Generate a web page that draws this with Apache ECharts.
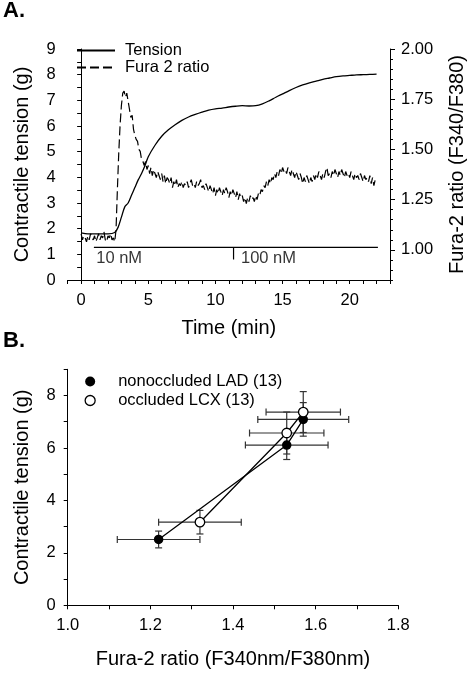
<!DOCTYPE html>
<html><head><meta charset="utf-8">
<script src="https://cdn.jsdelivr.net/npm/echarts@6/dist/echarts.min.js"></script>
<style>html,body{margin:0;padding:0;background:#fff}#c{width:475px;height:675px}</style>
</head><body><div id="c"></div>
<script>
const FONT = "'Liberation Sans', Arial, sans-serif";

// ---------- Panel A data ----------
const tensionTime = [0,0.5,1,1.5,2,2.5,2.75,3,3.25,3.5,3.75,4,4.25,4.5,4.75,5,5.5,6,6.5,7,7.5,8,8.5,9,9.5,10,10.5,11,11.5,12,12.5,13,13.5,14,14.5,15,15.5,16,16.5,17,17.5,18,18.5,19,19.5,20,20.5,21,21.5,22];
const tensionValues = [1.84,1.8,1.8,1.8,1.8,1.85,2.05,2.45,2.85,3.0,3.3,3.6,3.9,4.15,4.45,4.8,5.25,5.6,5.85,6.05,6.22,6.35,6.45,6.54,6.62,6.67,6.7,6.74,6.77,6.79,6.78,6.79,6.86,6.98,7.12,7.25,7.38,7.5,7.6,7.68,7.75,7.82,7.87,7.92,7.95,7.97,7.99,8.0,8.01,8.02];

// Fura-2 ratio sampled every 0.1 min from t = 0 to 22
const furaStartTime = 0;
const furaStep = 0.1;
const furaValues = [
  1.08,1.05,1.07,1.06,1.04,1.07,1.05,1.08,1.06,1.05,
  1.07,1.04,1.06,1.08,1.05,1.07,1.06,1.09,1.05,1.04,
  1.07,1.06,1.08,1.05,1.06,1.04,1.10,1.30,1.48,1.62,
  1.72,1.78,1.79,1.76,1.78,1.74,1.70,1.66,1.67,1.60,
  1.57,1.55,1.54,1.50,1.49,1.45,1.44,1.42,1.44,1.40,
  1.42,1.38,1.41,1.37,1.40,1.38,1.36,1.39,1.37,1.35,
  1.38,1.34,1.37,1.33,1.36,1.35,1.33,1.36,1.31,1.34,
  1.32,1.35,1.31,1.33,1.32,1.34,1.31,1.33,1.32,1.34,
  1.31,1.33,1.35,1.32,1.33,1.31,1.34,1.32,1.33,1.35,
  1.31,1.32,1.30,1.33,1.31,1.29,1.32,1.30,1.28,1.31,
  1.27,1.30,1.28,1.31,1.29,1.27,1.30,1.28,1.31,1.29,
  1.26,1.29,1.27,1.30,1.28,1.26,1.29,1.25,1.28,1.26,
  1.27,1.24,1.26,1.23,1.26,1.24,1.27,1.25,1.26,1.24,
  1.27,1.25,1.28,1.27,1.30,1.29,1.32,1.31,1.34,1.32,
  1.35,1.33,1.36,1.35,1.38,1.36,1.39,1.37,1.40,1.38,
  1.41,1.39,1.40,1.38,1.41,1.39,1.37,1.40,1.38,1.36,
  1.39,1.37,1.35,1.38,1.36,1.33,1.36,1.34,1.37,1.35,
  1.33,1.36,1.34,1.37,1.35,1.38,1.36,1.39,1.37,1.35,
  1.38,1.36,1.39,1.41,1.37,1.38,1.36,1.39,1.37,1.40,
  1.38,1.36,1.39,1.37,1.40,1.38,1.36,1.39,1.37,1.38,
  1.36,1.39,1.37,1.35,1.38,1.36,1.37,1.35,1.38,1.36,
  1.34,1.37,1.35,1.36,1.34,1.37,1.33,1.36,1.32,1.35,
  1.34
];

// stimulus bar (left-axis units)
const stimBarTimes = [0.95, 22.1];
const stimBarLevel = 1.27;
const stimMarkTime = 11.35;
const stimMarkBottom = 0.8;
const stimLabels = ['10 nM', '100 nM'];
const stimLabelTimes = [1.12, 11.9];
const stimLabelLevel = 0.85;

const timeLabels = [0, 5, 10, 15, 20];
const tensionLabelsA = [0,1,2,3,4,5,6,7,8,9];
const ratioLabels = [1.00, 1.25, 1.50, 1.75, 2.00];
const ratioTicks = [0.85,0.90,0.95,1.00,1.05,1.10,1.15,1.20,1.25,1.30,1.35,1.40,1.45,1.50,1.55,1.60,1.65,1.70,1.75,1.80,1.85,1.90,1.95,2.00];

// ---------- Panel B data ----------
const ladName = 'nonoccluded LAD (13)';
const lcxName = 'occluded LCX (13)';
const ladRatio = [1.22, 1.53, 1.57];
const ladTension = [2.51, 6.11, 7.09];
const ladRatioErr = [0.10, 0.10, 0.11];
const ladTensionErr = [0.32, 0.55, 0.64];
const lcxRatio = [1.32, 1.53, 1.57];
const lcxTension = [3.17, 6.57, 7.37];
const lcxRatioErr = [0.10, 0.09, 0.09];
const lcxTensionErr = [0.45, 0.80, 0.78];
const ratioLabelsB = [1.0, 1.2, 1.4, 1.6, 1.8];
const tensionLabelsB = [0, 2, 4, 6, 8];

// ---------- build ----------
const tensionData = tensionTime.map((t, i) => [t, tensionValues[i]]);
const furaData = furaValues.map((v, i) => [+(furaStartTime + i * furaStep).toFixed(2), v]);
const ladData = ladRatio.map((x, i) => [x, ladTension[i]]);
const lcxData = lcxRatio.map((x, i) => [x, lcxTension[i]]);
const errData = ladRatio.map((x, i) => [x, ladTension[i], ladRatioErr[i], ladTensionErr[i]])
  .concat(lcxRatio.map((x, i) => [x, lcxTension[i], lcxRatioErr[i], lcxTensionErr[i]]));

const black = '#000';
const axisLine = { show: true, lineStyle: { color: black, width: 1 } };
const labelStyle = { color: black, fontSize: 16.5, fontFamily: FONT };
const nameStyle = { color: black, fontSize: 20, fontFamily: FONT };

function errRender(params, api) {
  const x = api.value(0), y = api.value(1), ex = api.value(2), ey = api.value(3);
  const l = api.coord([x - ex, y]), r = api.coord([x + ex, y]);
  const t = api.coord([x, y + ey]), b = api.coord([x, y - ey]);
  const cap = 3.5;
  const style = { stroke: '#333', lineWidth: 1.2, fill: null };
  const seg = (x1, y1, x2, y2) => ({ type: 'line', shape: { x1, y1, x2, y2 }, style });
  return { type: 'group', children: [
    seg(l[0], l[1], r[0], r[1]),
    seg(l[0], l[1] - cap, l[0], l[1] + cap),
    seg(r[0], r[1] - cap, r[0], r[1] + cap),
    seg(t[0], t[1], b[0], b[1]),
    seg(t[0] - cap, t[1], t[0] + cap, t[1]),
    seg(b[0] - cap, b[1], b[0] + cap, b[1])
  ]};
}

const chart = echarts.init(document.getElementById('c'), null, { renderer: 'canvas' });
chart.setOption({
  animation: false,
  backgroundColor: '#fff',
  textStyle: { fontFamily: FONT },
  title: [
    { text: 'A.', left: 3, top: 0, padding: 0, textStyle: { fontSize: 22, fontWeight: 'bold', color: black, fontFamily: FONT } },
    { text: 'B.', left: 3, top: 330, padding: 0, textStyle: { fontSize: 22, fontWeight: 'bold', color: black, fontFamily: FONT } }
  ],
  legend: [
    {
      data: ['Tension', 'Fura 2 ratio'],
      orient: 'vertical', left: 76, top: 42, padding: 0,
      itemWidth: 38, itemHeight: 16, itemGap: 0,
      itemStyle: { opacity: 0 },
      textStyle: { color: black, fontSize: 16.5, fontFamily: FONT, lineHeight: 16, padding: [0, 0, 0, 5] },
      selectedMode: false
    },
    {
      data: [
        { name: ladName, icon: 'circle', itemStyle: { color: black } },
        { name: lcxName, icon: 'circle', itemStyle: { color: '#fff', borderColor: black, borderWidth: 1.3 } }
      ],
      orient: 'vertical', left: 84.5, top: 372, padding: 0,
      itemWidth: 10, itemHeight: 10, itemGap: 0,
      textStyle: { color: black, fontSize: 16.5, fontFamily: FONT, lineHeight: 19, padding: [0, 0, 0, 18] },
      selectedMode: false
    }
  ],
  grid: [
    { left: 67.7, top: 49, width: 329.6, height: 231 },
    { left: 67.7, top: 369.3, width: 330.6, height: 236 }
  ],
  xAxis: [
    {
      gridIndex: 0, type: 'value', min: -1, max: 23, interval: 1,
      name: 'Time (min)', nameLocation: 'middle', nameGap: 38, nameTextStyle: nameStyle,
      axisLine, axisTick: { length: 4, lineStyle: { color: black } },
      axisLabel: Object.assign({ customValues: timeLabels, margin: 12 }, labelStyle),
      splitLine: { show: false }
    },
    {
      gridIndex: 1, type: 'value', min: 1.0, max: 1.8, interval: 0.1,
      name: 'Fura-2 ratio (F340nm/F380nm)', nameLocation: 'middle', nameGap: 44, nameTextStyle: nameStyle,
      axisLine, axisTick: { length: 4, lineStyle: { color: black } },
      axisLabel: Object.assign({ customValues: ratioLabelsB, margin: 12, formatter: v => v.toFixed(1) }, labelStyle),
      splitLine: { show: false }
    }
  ],
  yAxis: [
    {
      gridIndex: 0, type: 'value', min: 0, max: 9, interval: 1, position: 'left',
      name: 'Contractile tension (g)', nameLocation: 'middle', nameGap: 35, nameTextStyle: nameStyle,
      axisLine, axisTick: { length: 4, lineStyle: { color: black } },
      minorTick: { show: true, splitNumber: 2, length: 4, lineStyle: { color: black } },
      axisLabel: Object.assign({ customValues: tensionLabelsA, margin: 12 }, labelStyle),
      splitLine: { show: false }
    },
    {
      gridIndex: 0, type: 'value', min: 0.85, max: 2.0, position: 'right',
      name: 'Fura-2 ratio (F340/F380)', nameLocation: 'middle', nameGap: 57, nameTextStyle: nameStyle,
      axisLine, axisTick: { customValues: ratioTicks, length: 3, lineStyle: { color: black } },
      axisLabel: Object.assign({ customValues: ratioLabels, margin: 11, formatter: v => v.toFixed(2) }, labelStyle),
      splitLine: { show: false }
    },
    {
      gridIndex: 0, type: 'value', min: 0.85, max: 2.0, position: 'right',
      axisLine: { show: false }, axisTick: { show: true, customValues: ratioLabels, length: 5, lineStyle: { color: black } },
      axisLabel: { show: false }, splitLine: { show: false }
    },
    {
      gridIndex: 1, type: 'value', min: 0, max: 9, interval: 1,
      name: 'Contractile tension (g)', nameLocation: 'middle', nameGap: 35, nameTextStyle: nameStyle,
      axisLine, axisTick: { length: 4, lineStyle: { color: black } },
      axisLabel: Object.assign({ customValues: tensionLabelsB, margin: 12 }, labelStyle),
      splitLine: { show: false }
    }
  ],
  series: [
    {
      name: 'Tension', type: 'line', xAxisIndex: 0, yAxisIndex: 0, data: tensionData,
      symbol: 'none', smooth: 0.3, lineStyle: { color: black, width: 1.3 }, itemStyle: { color: black }, z: 3
    },
    {
      name: 'Fura 2 ratio', type: 'line', xAxisIndex: 0, yAxisIndex: 1, data: furaData,
      symbol: 'none', lineStyle: { color: black, width: 1.2, type: [9, 4] }, itemStyle: { color: black }, z: 3
    },
    {
      name: 'stim', type: 'line', xAxisIndex: 0, yAxisIndex: 0, silent: true,
      data: stimBarTimes.map(t => [t, stimBarLevel]), symbol: 'none', lineStyle: { color: black, width: 1.2 }
    },
    {
      name: 'stimMark', type: 'line', xAxisIndex: 0, yAxisIndex: 0, silent: true,
      data: [[stimMarkTime, stimBarLevel], [stimMarkTime, stimMarkBottom]], symbol: 'none', lineStyle: { color: black, width: 1.2 }
    },
    {
      name: 'stimLabels', type: 'scatter', xAxisIndex: 0, yAxisIndex: 0, silent: true,
      data: stimLabels.map((s, i) => [stimLabelTimes[i], stimLabelLevel, s]),
      symbolSize: 0.1, itemStyle: { color: 'rgba(0,0,0,0)' },
      label: { show: true, position: 'right', distance: 0, formatter: p => p.value[2], color: black, fontSize: 16.5, fontFamily: FONT }
    },
    {
      name: 'errors', type: 'custom', xAxisIndex: 1, yAxisIndex: 3, data: errData,
      renderItem: errRender, encode: { x: 0, y: 1 }, z: 1, silent: true
    },
    {
      name: ladName, type: 'line', xAxisIndex: 1, yAxisIndex: 3, data: ladData,
      symbol: 'circle', symbolSize: 9.5, showSymbol: true,
      lineStyle: { color: black, width: 1.3 }, itemStyle: { color: black }, z: 3
    },
    {
      name: lcxName, type: 'line', xAxisIndex: 1, yAxisIndex: 3, data: lcxData,
      symbol: 'circle', symbolSize: 9.5, showSymbol: true,
      lineStyle: { color: black, width: 1.3 }, itemStyle: { color: '#fff', borderColor: black, borderWidth: 1.3 }, z: 4
    }
  ]
});
</script>
</body></html>
